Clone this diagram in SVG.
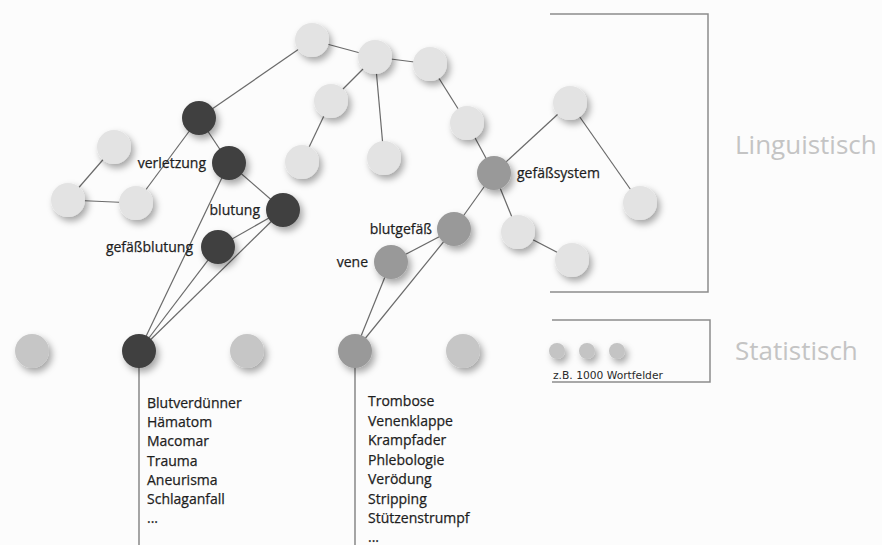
<svg xmlns="http://www.w3.org/2000/svg" width="882" height="545" viewBox="0 0 882 545">
  <defs>
    <filter id="shadow" x="-80%" y="-80%" width="260%" height="260%">
      <feDropShadow dx="3" dy="4" stdDeviation="3.5" flood-color="#000" flood-opacity="0.35"/>
    </filter>
    <style>
      .edge { stroke: #6a6a6a; stroke-width: 1.2; fill: none; }
      .frame { stroke: #8c8c8c; stroke-width: 1.5; fill: none; }
      .light { fill: #e3e3e3; filter: url(#shadow); }
      .stat { fill: #c6c6c6; filter: url(#shadow); }
      .dark { fill: #404040; filter: url(#shadow); }
      .mid { fill: #999999; filter: url(#shadow); }
      .dot { fill: #c4c4c4; filter: url(#shadow); }
      .label, .list { font-family: "Open Sans", "Liberation Sans", sans-serif; font-size: 14px; fill: #1e1e1e; stroke: #1e1e1e; stroke-width: 0.25; }
      .title { font-family: "Open Sans", "Liberation Sans", sans-serif; font-size: 26px; fill: #c4c4c4; }
      .note { font-family: "DejaVu Sans", Verdana, sans-serif; font-size: 10.7px; fill: #2a2a2a; }
    </style>
  </defs>

  <rect width="882" height="545" fill="#fcfcfc"/>

  <!-- layer brackets -->
  <g id="frames">
    <polyline class="frame" points="550,14 708,14 708,292 550,292"/>
    <polyline class="frame" points="552,320 710,320 710,382 552,382"/>
  </g>

  <!-- connectors -->
  <g id="connectors">
    <line class="edge" x1="312" y1="40" x2="375" y2="57"/>
    <line class="edge" x1="375" y1="57" x2="430" y2="64"/>
    <line class="edge" x1="375" y1="57" x2="331" y2="101"/>
    <line class="edge" x1="331" y1="101" x2="302" y2="162"/>
    <line class="edge" x1="375" y1="57" x2="384" y2="158"/>
    <line class="edge" x1="430" y1="64" x2="467" y2="123"/>
    <line class="edge" x1="467" y1="123" x2="494" y2="173"/>
    <line class="edge" x1="494" y1="173" x2="570" y2="103"/>
    <line class="edge" x1="570" y1="103" x2="640" y2="203"/>
    <line class="edge" x1="494" y1="173" x2="518" y2="232"/>
    <line class="edge" x1="518" y1="232" x2="572" y2="260"/>
    <line class="edge" x1="494" y1="173" x2="454" y2="229"/>
    <line class="edge" x1="454" y1="229" x2="391" y2="262"/>
    <line class="edge" x1="454" y1="229" x2="355" y2="351"/>
    <line class="edge" x1="391" y1="262" x2="355" y2="351"/>
    <line class="edge" x1="312" y1="40" x2="199" y2="118"/>
    <line class="edge" x1="199" y1="118" x2="229" y2="163"/>
    <line class="edge" x1="199" y1="118" x2="136" y2="203"/>
    <line class="edge" x1="114" y1="147" x2="68" y2="200"/>
    <line class="edge" x1="68" y1="200" x2="136" y2="203"/>
    <line class="edge" x1="229" y1="163" x2="283" y2="210"/>
    <line class="edge" x1="283" y1="210" x2="218" y2="247"/>
    <line class="edge" x1="229" y1="163" x2="139" y2="351"/>
    <line class="edge" x1="283" y1="210" x2="139" y2="351"/>
    <line class="edge" x1="218" y1="247" x2="139" y2="351"/>
    <line class="edge" x1="139" y1="351" x2="139" y2="545"/>
    <line class="edge" x1="355" y1="351" x2="355" y2="545"/>
  </g>

  <!-- linguistic layer -->
  <g id="n-top"><circle class="light" cx="312" cy="40" r="17"/></g>
  <g id="n-b"><circle class="light" cx="375" cy="57" r="17"/></g>
  <g id="n-c"><circle class="light" cx="430" cy="64" r="17"/></g>
  <g id="n-d"><circle class="light" cx="331" cy="101" r="17"/></g>
  <g id="n-e"><circle class="light" cx="302" cy="162" r="17"/></g>
  <g id="n-f"><circle class="light" cx="384" cy="158" r="17"/></g>
  <g id="n-g"><circle class="light" cx="467" cy="123" r="17"/></g>
  <g id="n-h"><circle class="light" cx="570" cy="103" r="17"/></g>
  <g id="n-i"><circle class="light" cx="640" cy="203" r="17"/></g>
  <g id="n-j"><circle class="light" cx="518" cy="232" r="17"/></g>
  <g id="n-k"><circle class="light" cx="572" cy="260" r="17"/></g>
  <g id="n-l1"><circle class="light" cx="114" cy="147" r="17"/></g>
  <g id="n-l2"><circle class="light" cx="68" cy="200" r="17"/></g>
  <g id="n-l3"><circle class="light" cx="136" cy="203" r="17"/></g>
  <g id="n-root"><circle class="dark" cx="199" cy="118" r="17"/></g>
  <g id="n-verletzung">
    <circle class="dark" cx="229" cy="163" r="17"/>
    <text class="label" x="206" y="168" text-anchor="end">verletzung</text>
  </g>
  <g id="n-blutung">
    <circle class="dark" cx="283" cy="210" r="17"/>
    <text class="label" x="260" y="215" text-anchor="end">blutung</text>
  </g>
  <g id="n-gefaessblutung">
    <circle class="dark" cx="218" cy="247" r="17"/>
    <text class="label" x="193" y="252" text-anchor="end">gefäßblutung</text>
  </g>
  <g id="n-gefaesssystem">
    <circle class="mid" cx="494" cy="173" r="17"/>
    <text class="label" x="517" y="178">gefäßsystem</text>
  </g>
  <g id="n-blutgefaess">
    <circle class="mid" cx="454" cy="229" r="17"/>
    <text class="label" x="432" y="234" text-anchor="end">blutgefäß</text>
  </g>
  <g id="n-vene">
    <circle class="mid" cx="391" cy="262" r="17"/>
    <text class="label" x="368" y="267" text-anchor="end">vene</text>
  </g>

  <!-- statistical layer -->
  <g id="s-1"><circle class="stat" cx="32" cy="351" r="17"/></g>
  <g id="s-2"><circle class="dark" cx="139" cy="351" r="17"/></g>
  <g id="s-3"><circle class="stat" cx="247" cy="351" r="17"/></g>
  <g id="s-4"><circle class="mid" cx="355" cy="351" r="17"/></g>
  <g id="s-5"><circle class="stat" cx="463" cy="351" r="17"/></g>

  <g id="legend">
    <circle class="dot" cx="557" cy="351" r="8"/>
    <circle class="dot" cx="587" cy="351" r="8"/>
    <circle class="dot" cx="617" cy="351" r="8"/>
    <text class="note" x="553" y="379">z.B. 1000 Wortfelder</text>
  </g>

  <!-- term lists -->
  <g id="list-blutung" class="list">
    <text x="147" y="408">Blutverdünner</text>
    <text x="147" y="427">Hämatom</text>
    <text x="147" y="446">Macomar</text>
    <text x="147" y="466">Trauma</text>
    <text x="147" y="485">Aneurisma</text>
    <text x="147" y="504">Schlaganfall</text>
    <text x="147" y="523">...</text>
  </g>
  <g id="list-vene" class="list">
    <text x="368" y="406">Trombose</text>
    <text x="368" y="426">Venenklappe</text>
    <text x="368" y="445">Krampfader</text>
    <text x="368" y="465">Phlebologie</text>
    <text x="368" y="484">Verödung</text>
    <text x="368" y="504">Stripping</text>
    <text x="368" y="523">Stützenstrumpf</text>
    <text x="368" y="542">...</text>
  </g>

  <g id="layer-titles">
    <text class="title" x="735" y="154">Linguistisch</text>
    <text class="title" x="735" y="360">Statistisch</text>
  </g>
</svg>
